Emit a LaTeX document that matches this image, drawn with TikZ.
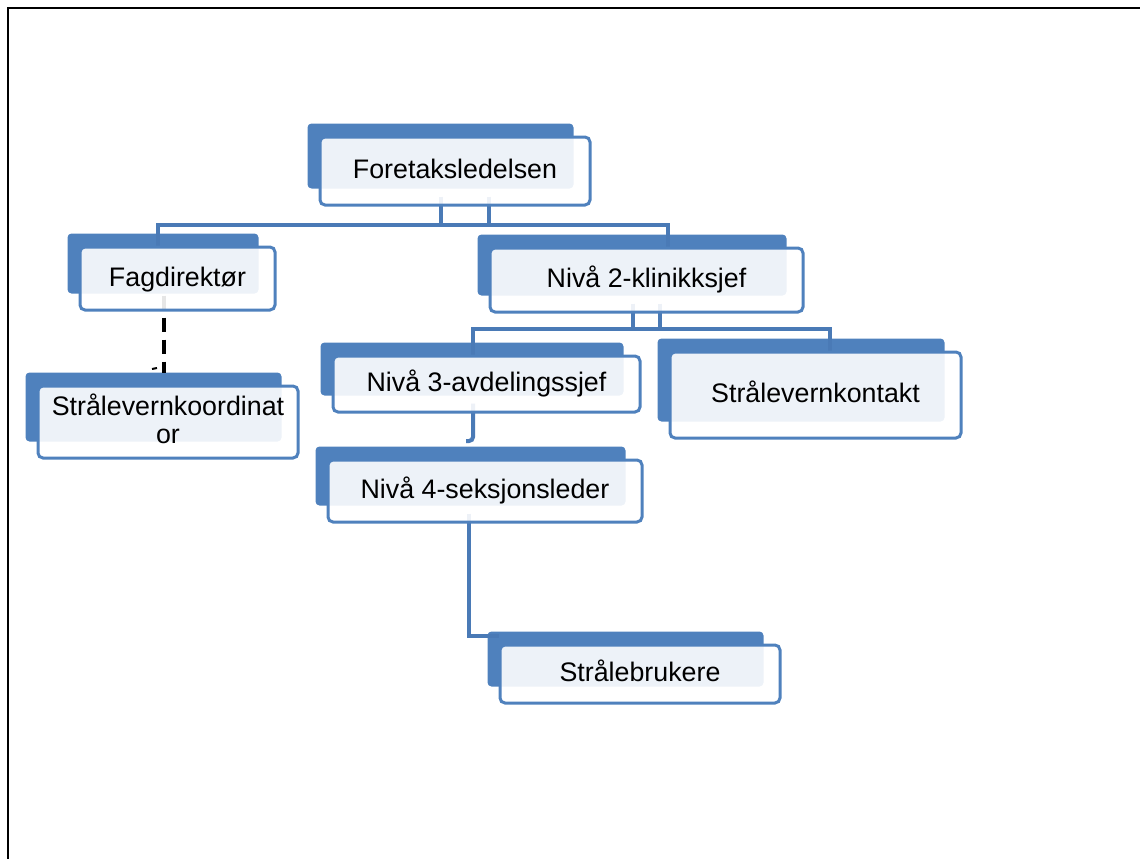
\documentclass[tikz,border=0pt]{standalone}
\usepackage{fontspec}
\setmainfont{Liberation Sans}
\usepackage{tikz}
\usetikzlibrary{backgrounds, calc}

\definecolor{orgblue}{RGB}{79,129,189}
\definecolor{linkblue}{RGB}{74,122,182}

\begin{document}
\begin{tikzpicture}[
                x=1pt, y=-1pt, % pixel-like units, y downwards
                frontbox/.style={rectangle, rounded corners=5pt, draw=orgblue, line width=3pt, fill=white, fill opacity=0.9, text opacity=1, inner sep=0pt, text height=20pt, text depth=4.8pt, font=\fontsize{26.8}{28}\selectfont}, % Front box of each unit
                backbox/.style={fill=orgblue, rounded corners=4pt}, % Blue card behind each box
                link/.style={draw=linkblue, line width=4pt}, % Solid line of the chart
                staff/.style={draw=black, line width=4pt, dash pattern=on 14pt off 8pt} % Dashed staff line
                ]
                \useasboundingbox (0,0) rectangle (1140,859);
                \draw[line width=2pt] (8,859) -- (8,8) -- (1140,8);

                \node[frontbox, minimum width=270pt, minimum height=68pt] (ledelse) at (455,171) {Foretaksledelsen};
                \node[frontbox, minimum width=195pt, minimum height=63pt] (fagdir) at (177.5,278.5) {Fagdirektør};
                \node[frontbox, minimum width=313pt, minimum height=64pt] (niva2) at (646.5,280) {Nivå 2-klinikksjef};
                \node[frontbox, minimum width=260pt, minimum height=72pt, align=center, text height=47pt] (koord) at (168,422) {Strålevernkoordinat\\or};
                \node[frontbox, minimum width=307pt, minimum height=56pt] (niva3) at (486.5,384) {Nivå 3-avdelingssjef};
                \node[frontbox, minimum width=291pt, minimum height=86pt] (kontakt) at (815.5,395) {Strålevernkontakt};
                \node[frontbox, minimum width=314pt, minimum height=62pt] (niva4) at (485,491) {Nivå 4-seksjonsleder};
                \node[frontbox, minimum width=280pt, minimum height=58pt] (brukere) at (640,674) {Strålebrukere};

                \begin{pgfonlayer}{background}
                % cards behind the boxes
                \foreach \n in {ledelse, fagdir, niva2, koord, niva3, kontakt, niva4, brukere}
                    \fill[backbox] ([shift={(-11,-12)}]\n.north west) rectangle ([shift={(-18,-18)}]\n.south east);

                % level 1
                \coordinate (bar1w) at (158,225);
                \coordinate (bar1e) at (668,225);
                \coordinate (l1a) at ($(ledelse.south)+(-14,-10)$);
                \coordinate (l1b) at ($(ledelse.south)+(34,-10)$);
                \draw[link] (l1a) -- (l1a |- bar1w);
                \draw[link] (l1b) -- (l1b |- bar1w);
                \draw[link] (bar1w |- fagdir.north) -- (bar1w) -- (bar1e) -- (bar1e |- niva2.north);

                % level 2
                \coordinate (bar2w) at (473,329);
                \coordinate (bar2e) at (830,329);
                \coordinate (l2a) at ($(niva2.south)+(-13.5,-10)$);
                \coordinate (l2b) at ($(niva2.south)+(13.5,-10)$);
                \draw[link] (l2a) -- (l2a |- bar2w);
                \draw[link] (l2b) -- (l2b |- bar2w);
                \draw[link] (bar2w |- niva3.north) -- (bar2w) -- (bar2e) -- (bar2e |- kontakt.north);

                % staff line
                \coordinate (st) at ($(fagdir.south)+(-13.5,-16)$);
                \coordinate (koordtop) at ($(koord.north)+(0,-12)$);
                \draw[staff] (st) -- (st |- koordtop);
                \draw[line width=2pt] (152,369) -- (157,368);

                % level 3 and 4
                \coordinate (hook) at (466,441);
                \coordinate (l3) at ($(niva3.south)+(-13.5,-10)$);
                \coordinate (l4) at ($(niva4.south)+(-16,-10)$);
                \draw[link, rounded corners=4pt] (l3) |- (hook);
                \draw[link] (l4) |- ($(brukere.north west)+(0,-8)$);
                \end{pgfonlayer}
            \end{tikzpicture}
\end{document}
